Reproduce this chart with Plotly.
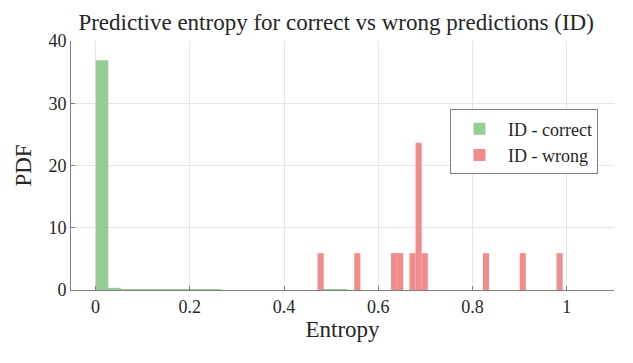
import plotly.graph_objects as go

# Histogram data (PDF normalisation), bin edges start + width
correct_start = 0.0004
correct_width = 0.0267
correct_pdf = [36.9, 0.35, 0.10, 0.06, 0.05, 0.04, 0.03, 0.03, 0.02, 0.02,
               0.0, 0.0, 0.0, 0.0, 0.0, 0.0, 0.0, 0.0, 0.02, 0.02,
               0.0, 0.0, 0.0, 0.0, 0.0, 0.0, 0.0, 0.0, 0.0, 0.0,
               0.0, 0.0, 0.0, 0.0, 0.0, 0.0, 0.0, 0.0, 0.0, 0.0]

wrong_start = 0.471
wrong_width = 0.013
wrong_pdf = [5.92, 0, 0, 0, 0, 0, 5.92, 0, 0, 0,
             0, 0, 5.92, 5.92, 0, 5.92, 23.67, 5.92, 0, 0,
             0, 0, 0, 0, 0, 0, 0, 5.92, 0, 0,
             0, 0, 0, 5.92, 0, 0, 0, 0, 0, 5.92]

x_ticks = [0, 0.2, 0.4, 0.6, 0.8, 1]
x_tick_text = ["0", "0.2", "0.4", "0.6", "0.8", "1"]
y_ticks = [0, 10, 20, 30, 40]

c_centers = [correct_start + (i + 0.5) * correct_width for i in range(len(correct_pdf))]
w_centers = [wrong_start + (i + 0.5) * wrong_width for i in range(len(wrong_pdf))]

fig = go.Figure()
fig.add_trace(go.Bar(x=c_centers, y=correct_pdf, width=[correct_width] * len(correct_pdf),
                     name="ID - correct", marker=dict(color="rgb(150,205,150)", line=dict(width=0))))
fig.add_trace(go.Bar(x=w_centers, y=wrong_pdf, width=[wrong_width] * len(wrong_pdf),
                     name="ID - wrong", marker=dict(color="rgb(240,140,140)", line=dict(width=0))))

font_family = '"Liberation Serif", "Times New Roman", serif'
axis_col = "#7f7f7f"
fig.update_layout(
    width=633, height=363,
    margin=dict(l=71, r=19, t=41, b=73, autoexpand=False),
    barmode="overlay",
    paper_bgcolor="white", plot_bgcolor="white",
    font=dict(family=font_family, color="#262626", size=18),
    title=dict(text="Predictive entropy for correct vs wrong predictions (ID)",
               x=0.531, xanchor="center", y=0.94, yanchor="middle",
               font=dict(size=23, color="#262626", family=font_family)),
    xaxis=dict(range=[-0.052, 1.1], tickvals=x_ticks, ticktext=x_tick_text,
               showgrid=True, gridcolor="#e6e6e6", gridwidth=1,
               showline=True, linecolor=axis_col, linewidth=1,
               ticks="inside", ticklen=4, tickcolor=axis_col,
               zeroline=False, automargin=False,
               title=dict(text="Entropy", font=dict(size=23, family=font_family), standoff=4),
               tickfont=dict(size=18, family=font_family)),
    yaxis=dict(range=[0, 40], tickvals=y_ticks,
               showgrid=True, gridcolor="#e6e6e6", gridwidth=1,
               showline=True, linecolor=axis_col, linewidth=1,
               ticks="inside", ticklen=4, tickcolor=axis_col,
               zeroline=False, automargin=False,
               title=dict(text="PDF", font=dict(size=23, family=font_family), standoff=10),
               tickfont=dict(size=18, family=font_family)),
    legend=dict(x=0.9705, xanchor="right", y=0.725, yanchor="top",
                bordercolor="#7f7f7f", borderwidth=1, bgcolor="white",
                font=dict(size=18, family=font_family), tracegroupgap=0,
                itemwidth=47),
    showlegend=True,
)

fig.write_html("out.html", config={"displayModeBar": False},
               post_script="document.body.style.margin='0';")
